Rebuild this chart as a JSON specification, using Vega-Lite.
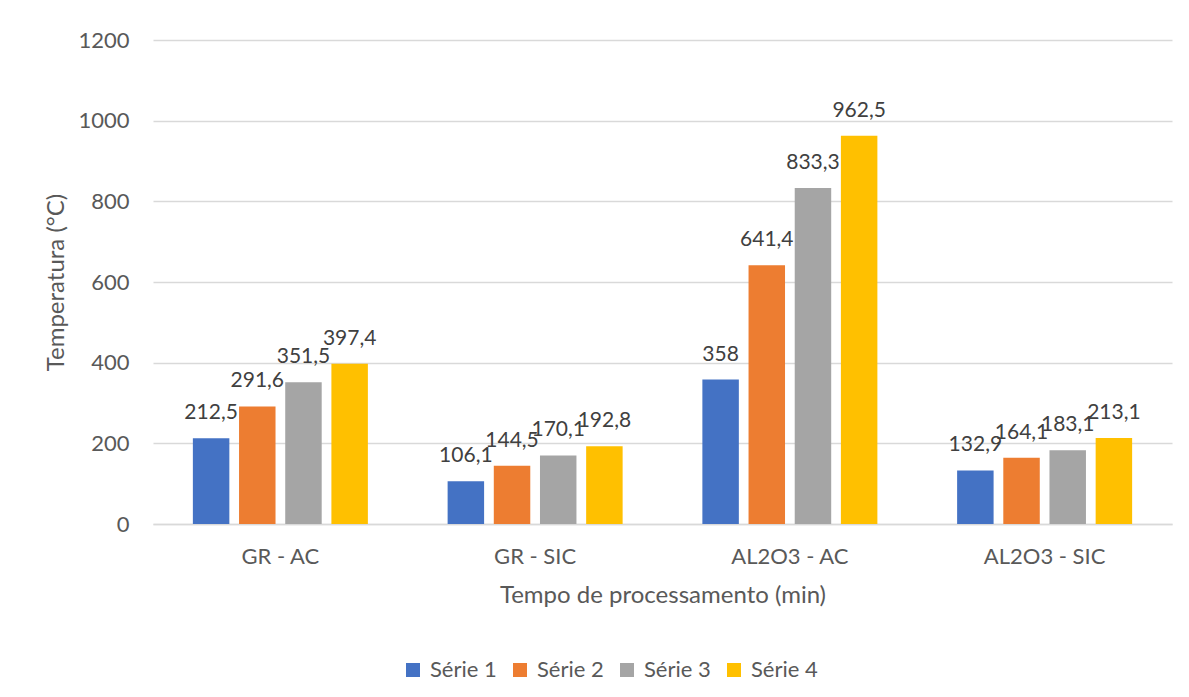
{
  "$schema": "https://vega.github.io/schema/vega-lite/v6.json",
  "width": 1019,
  "height": 484,
  "autosize": "none",
  "padding": {"left": 153, "top": 40, "right": 17, "bottom": 173},
  "background": "white",
  "config": {
    "locale": {"number": {"decimal": ",", "thousands": ".", "grouping": [3], "currency": ["", " €"]}},
    "view": {"stroke": null},
    "font": "Lato",
    "axis": {"labelFont": "Lato", "titleFont": "Lato", "labelColor": "#595959", "titleColor": "#595959", "titleFontWeight": "normal"}
  },
  "data": {
    "values": [
      {"categoria": "GR - AC", "serie": "Série 1", "valor": 212.5},
      {"categoria": "GR - AC", "serie": "Série 2", "valor": 291.6},
      {"categoria": "GR - AC", "serie": "Série 3", "valor": 351.5},
      {"categoria": "GR - AC", "serie": "Série 4", "valor": 397.4},
      {"categoria": "GR - SIC", "serie": "Série 1", "valor": 106.1},
      {"categoria": "GR - SIC", "serie": "Série 2", "valor": 144.5},
      {"categoria": "GR - SIC", "serie": "Série 3", "valor": 170.1},
      {"categoria": "GR - SIC", "serie": "Série 4", "valor": 192.8},
      {"categoria": "AL2O3 - AC", "serie": "Série 1", "valor": 358},
      {"categoria": "AL2O3 - AC", "serie": "Série 2", "valor": 641.4},
      {"categoria": "AL2O3 - AC", "serie": "Série 3", "valor": 833.3},
      {"categoria": "AL2O3 - AC", "serie": "Série 4", "valor": 962.5},
      {"categoria": "AL2O3 - SIC", "serie": "Série 1", "valor": 132.9},
      {"categoria": "AL2O3 - SIC", "serie": "Série 2", "valor": 164.1},
      {"categoria": "AL2O3 - SIC", "serie": "Série 3", "valor": 183.1},
      {"categoria": "AL2O3 - SIC", "serie": "Série 4", "valor": 213.1}
    ]
  },
  "encoding": {
    "x": {
      "field": "categoria",
      "type": "nominal",
      "sort": ["GR - AC", "GR - SIC", "AL2O3 - AC", "AL2O3 - SIC"],
      "scale": {"paddingInner": 0.313, "paddingOuter": 0.1565},
      "axis": {
        "title": "Tempo de processamento (min)",
        "titleFontSize": 24,
        "titleBaseline": "alphabetic",
        "titleY": 78,
        "labelAngle": 0,
        "labelFontSize": 22,
        "labelBaseline": "alphabetic",
        "labelPadding": 39,
        "ticks": false,
        "domain": true,
        "domainColor": "#d9d9d9",
        "domainWidth": 1.3,
        "grid": false
      }
    },
    "xOffset": {
      "field": "serie",
      "type": "nominal",
      "scale": {"paddingInner": 0.21, "paddingOuter": 0}
    },
    "y": {
      "field": "valor",
      "type": "quantitative",
      "scale": {"domain": [0, 1200], "nice": false},
      "axis": {
        "title": "Temperatura (°C)",
        "titleFontSize": 24,
        "titleAngle": -90,
        "titleBaseline": "alphabetic",
        "titleX": -90,
        "titleY": 242,
        "titleAlign": "center",
        "values": [0, 200, 400, 600, 800, 1000, 1200],
        "format": "d",
        "labelFontSize": 22,
        "labelPadding": 24,
        "ticks": false,
        "domain": false,
        "grid": true,
        "gridColor": "#d9d9d9",
        "gridWidth": 1.3
      }
    }
  },
  "layer": [
    {
      "mark": {"type": "bar"},
      "encoding": {
        "color": {
          "field": "serie",
          "type": "nominal",
          "scale": {"domain": ["Série 1", "Série 2", "Série 3", "Série 4"], "range": ["#4472C4", "#ED7D31", "#A5A5A5", "#FFC000"]},
          "legend": {
            "title": null,
            "orient": "none",
            "direction": "horizontal",
            "legendX": 249,
            "legendY": 619,
            "symbolType": "square",
            "symbolSize": 196,
            "symbolStrokeWidth": 0,
            "labelFont": "Lato",
            "labelFontSize": 22,
            "labelColor": "#595959",
            "labelOffset": 6,
            "columnPadding": 12,
            "padding": 0
          }
        }
      }
    },
    {
      "mark": {"type": "text", "baseline": "alphabetic", "dy": -19, "fontSize": 21, "color": "#404040", "font": "Lato"},
      "encoding": {
        "text": {"field": "valor", "type": "quantitative", "format": ".1~f"}
      }
    }
  ]
}
